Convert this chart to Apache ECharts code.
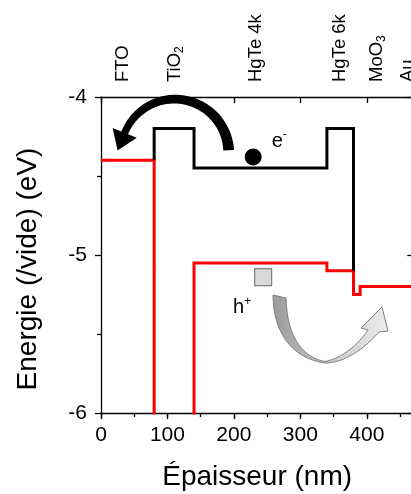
<!DOCTYPE html>
<html>
<head>
<meta charset="utf-8">
<script src="https://cdn.jsdelivr.net/npm/echarts@6/dist/echarts.min.js"></script>
<style>html,body{margin:0;padding:0;background:#fff}#c{width:411px;height:494px}</style>
</head>
<body>
<div id="c"></div>
<script>
// ---- data ----
// valence band (red) : thickness (nm) / energy (eV)
const vbX = [0, 80, 80, 140, 140, 340, 340, 380, 380, 390, 390, 470];
const vbY = [-4.4, -4.4, -7.4, -7.4, -5.05, -5.05, -5.10, -5.10, -5.25, -5.25, -5.20, -5.20];
// conduction band (black)
const cbX = [80, 80, 140, 140, 340, 340, 380, 380];
const cbY = [-4.4, -4.2, -4.2, -4.45, -4.45, -4.2, -4.2, -5.1];
// electron / hole markers
const elecX = [229], elecY = [-4.38];
const holeX = [244], holeY = [-5.14];
// layer labels (top axis): main text + subscript
const layerNames = ['FTO', 'TiO', 'HgTe 4k', 'HgTe 6k', 'MoO', 'Au'];
const layerSubs = ['', '2', '', '', '3', ''];
const layerPos = [34, 112, 235, 361, 416, 463];
const xTicks = [0, 100, 200, 300, 400];

const FONT = 'Liberation Sans, Arial, sans-serif';
const chart = echarts.init(document.getElementById('c'), null, {renderer: 'canvas'});
const axisLineStyle = {color: '#000', width: 1.3};

const option = {
  animation: false,
  textStyle: {fontFamily: FONT},
  grid: {left: 101, top: 97, bottom: 81, right: -2.3, containLabel: false, outerBoundsMode: 'none'},
  xAxis: [
    {
      type: 'value', position: 'bottom', min: 0, max: 470, interval: 100,
      name: 'Épaisseur (nm)', nameLocation: 'middle', nameGap: 50,
      nameTextStyle: {fontSize: 28, color: '#000'},
      axisLine: {show: true, onZero: false, lineStyle: axisLineStyle},
      axisTick: {show: true, inside: false, length: 6, lineStyle: axisLineStyle},
      axisLabel: {fontSize: 21, color: '#000', margin: 12, showMaxLabel: false},
      splitLine: {show: false}
    },
    {
      type: 'value', position: 'top', min: 0, max: 470, interval: 100,
      axisLine: {show: true, onZero: false, lineStyle: axisLineStyle},
      axisTick: {show: true, inside: true, length: 6, lineStyle: axisLineStyle, customValues: xTicks},
      axisLabel: {
        show: true, customValues: layerPos, rotate: -90, margin: 15, color: '#000',
        formatter: function (v) {
          for (let i = 0; i < layerPos.length; i++) {
            if (Math.abs(layerPos[i] - v) < 0.5) {
              return '{n|' + layerNames[i] + '}' + (layerSubs[i] ? '{s|' + layerSubs[i] + '}' : '');
            }
          }
          return '';
        },
        rich: {
          n: {fontSize: 18.5, color: '#000', fontFamily: FONT, lineHeight: 21, verticalAlign: 'top'},
          s: {fontSize: 12, color: '#000', fontFamily: FONT, lineHeight: 14, verticalAlign: 'bottom', padding: [8, 0, 0, 0]}
        }
      },
      splitLine: {show: false}
    },
    {
      type: 'value', position: 'bottom', min: 0, max: 470, interval: 50,
      axisLine: {show: false},
      axisTick: {show: true, inside: false, length: 4, lineStyle: axisLineStyle},
      axisLabel: {show: false},
      splitLine: {show: false}
    }
  ],
  yAxis: [
    {
      type: 'value', min: -6, max: -4, interval: 1,
      name: 'Energie (/vide) (eV)', nameLocation: 'middle', nameGap: 59,
      nameTextStyle: {fontSize: 28, color: '#000', padding: [0, 28, 0, 0]},
      axisLine: {show: true, onZero: false, lineStyle: axisLineStyle},
      axisTick: {show: true, inside: false, length: 6, lineStyle: axisLineStyle},
      minorTick: {show: true, splitNumber: 2, length: 4, lineStyle: axisLineStyle},
      axisLabel: {fontSize: 21, color: '#000', margin: 14},
      splitLine: {show: false}
    },
    {
      type: 'value', position: 'right', min: -6, max: -4, interval: 1,
      axisLine: {show: true, onZero: false, lineStyle: axisLineStyle},
      axisTick: {show: true, inside: true, length: 6, lineStyle: axisLineStyle},
      axisLabel: {show: false},
      splitLine: {show: false}
    }
  ],
  series: [
    {
      name: 'BV', type: 'line', xAxisIndex: 0, yAxisIndex: 0, clip: true,
      data: vbX.map((x, i) => [x, vbY[i]]),
      showSymbol: false, symbol: 'none',
      lineStyle: {color: '#ff0000', width: 3, join: 'miter'}, z: 2
    },
    {
      name: 'BC', type: 'line', xAxisIndex: 0, yAxisIndex: 0, clip: true,
      data: cbX.map((x, i) => [x, cbY[i]]),
      showSymbol: false, symbol: 'none',
      lineStyle: {color: '#000', width: 3, join: 'miter'}, z: 3
    },
    {
      name: 'e', type: 'scatter', xAxisIndex: 0, yAxisIndex: 0,
      data: elecX.map((x, i) => [x, elecY[i]]),
      symbol: 'circle', symbolSize: 17, itemStyle: {color: '#000', opacity: 1}, z: 4,
      label: {
        show: true, position: 'right', distance: 10, offset: [0, -17],
        formatter: '{b|e}{p|-}',
        rich: {
          b: {fontSize: 20, lineHeight: 22, color: '#000', fontFamily: FONT, verticalAlign: 'bottom'},
          p: {fontSize: 12, lineHeight: 12, color: '#000', fontFamily: FONT, verticalAlign: 'top'}
        }
      }
    },
    {
      name: 'h', type: 'scatter', xAxisIndex: 0, yAxisIndex: 0,
      data: holeX.map((x, i) => [x, holeY[i]]),
      symbol: 'rect', symbolSize: 17,
      itemStyle: {color: '#d9d9d9', borderColor: '#7f7f7f', borderWidth: 1.2, opacity: 1}, z: 4,
      label: {
        show: true, position: 'bottom', distance: 9, offset: [-21, 0],
        formatter: '{b|h}{p|+}',
        rich: {
          b: {fontSize: 20, lineHeight: 22, color: '#000', fontFamily: FONT, verticalAlign: 'bottom'},
          p: {fontSize: 12, lineHeight: 12, color: '#000', fontFamily: FONT, verticalAlign: 'top'}
        }
      }
    }
  ]
};
chart.setOption(option);

// ---- decorative arrows (annotation shapes, placed from axis coordinates) ----
const arrowCenter = chart.convertToPixel({xAxisIndex: 0, yAxisIndex: 0}, [111, -4.355]);
const origin = chart.convertToPixel({xAxisIndex: 0, yAxisIndex: 0}, [0, -4]);

function blackArrow(c) {
  const r = 54, a0 = 3, a1 = 158, w0 = 5.4, w1 = 3.6, N = 40;
  const outer = [], inner = [];
  for (let k = 0; k <= N; k++) {
    const t = k / N;
    const a = (a0 + (a1 - a0) * t) * Math.PI / 180;
    const w = w0 + (w1 - w0) * t;
    outer.push([c[0] + (r + w) * Math.cos(a), c[1] - (r + w) * Math.sin(a)]);
    inner.push([c[0] + (r - w) * Math.cos(a), c[1] - (r - w) * Math.sin(a)]);
  }
  const ae = a1 * Math.PI / 180;
  const B = [c[0] + r * Math.cos(ae), c[1] - r * Math.sin(ae)];
  const n = [Math.cos(ae), -Math.sin(ae)];
  const tg = [-Math.sin(ae), -Math.cos(ae)];
  const hw = 13, hl = 19;
  const pts = outer.slice();
  pts.push([B[0] + n[0] * hw, B[1] + n[1] * hw]);
  pts.push([B[0] + tg[0] * hl, B[1] + tg[1] * hl]);
  pts.push([B[0] - n[0] * hw, B[1] - n[1] * hw]);
  for (let k = N; k >= 0; k--) pts.push(inner[k]);
  return pts;
}

// gray curved arrow outline, pixel offsets from the plot's top-left corner
const graySegs = [
  ['M', [172, 198]],
  ['C', [172, 233], [189, 261], [224, 266]],
  ['C', [244, 266], [264, 251], [278, 235]],
  ['L', [287, 234]],
  ['L', [281, 210]],
  ['L', [260, 231]],
  ['L', [267, 233]],
  ['C', [257, 248], [241, 261], [224, 264.5]],
  ['C', [204, 261], [186, 243], [185, 201]]
];
function sampleSegs(segs, o) {
  const pts = [];
  let cur = null;
  segs.forEach(function (s) {
    if (s[0] === 'M' || s[0] === 'L') {
      cur = s[1];
      pts.push([o[0] + cur[0], o[1] + cur[1]]);
    } else {
      const p0 = cur, p1 = s[1], p2 = s[2], p3 = s[3];
      for (let k = 1; k <= 16; k++) {
        const t = k / 16, u = 1 - t;
        const x = u * u * u * p0[0] + 3 * u * u * t * p1[0] + 3 * u * t * t * p2[0] + t * t * t * p3[0];
        const y = u * u * u * p0[1] + 3 * u * u * t * p1[1] + 3 * u * t * t * p2[1] + t * t * t * p3[1];
        pts.push([o[0] + x, o[1] + y]);
      }
      cur = p3;
    }
  });
  return pts;
}

chart.setOption({
  graphic: [
    {
      type: 'polygon', z: 10, silent: true,
      shape: {points: blackArrow(arrowCenter)},
      style: {fill: '#000'}
    },
    {
      type: 'polygon', z: 10, silent: true,
      shape: {points: sampleSegs(graySegs, origin)},
      style: {
        fill: {
          type: 'linear', x: 0, y: 0, x2: 1, y2: 0, global: false,
          colorStops: [
            {offset: 0, color: '#999999'},
            {offset: 0.45, color: '#c8c8c8'},
            {offset: 1, color: '#ececec'}
          ]
        },
        stroke: '#808080', lineWidth: 1
      }
    }
  ]
});
</script>
</body>
</html>
